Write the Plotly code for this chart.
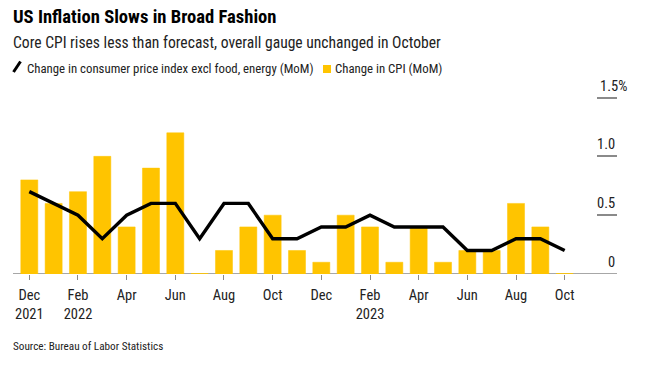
import plotly.graph_objects as go

months = ["Dec", "Jan", "Feb", "Mar", "Apr", "May", "Jun", "Jul", "Aug", "Sep", "Oct", "Nov",
          "Dec", "Jan", "Feb", "Mar", "Apr", "May", "Jun", "Jul", "Aug", "Sep", "Oct"]
cpi = [0.8, 0.6, 0.7, 1.0, 0.4, 0.9, 1.2, 0.0, 0.2, 0.4, 0.5, 0.2,
       0.1, 0.5, 0.4, 0.1, 0.4, 0.1, 0.2, 0.2, 0.6, 0.4, 0.0]
core = [0.7, 0.6, 0.5, 0.3, 0.5, 0.6, 0.6, 0.3, 0.6, 0.6, 0.3, 0.3,
        0.4, 0.4, 0.5, 0.4, 0.4, 0.4, 0.2, 0.2, 0.3, 0.3, 0.2]
xtick_labels = ["Dec<br>2021", "Feb<br>2022", "Apr", "Jun", "Aug", "Oct", "Dec",
                "Feb<br>2023", "Apr", "Jun", "Aug", "Oct"]
ytick_vals = [0, 0.5, 1.0, 1.5]
ytick_text = ["0", "0.5", "1.0", "1.5%"]

FONT = "Roboto Condensed, Roboto, Arial, sans-serif"
YELLOW = "#FFC400"
GREY = "#8a8a8a"
W, H = 670, 366
ML, MR, MT, MB = 13, 53, 74, 92
PH = H - MT - MB  # plot height px
PW = W - ML - MR
BARGAP = 0.3

x = list(range(len(months)))

fig = go.Figure()
fig.add_trace(go.Bar(x=x, y=cpi, marker=dict(color=YELLOW, line=dict(color=YELLOW, width=0.5)),
                     name="Change in CPI (MoM)", hoverinfo="y"))
fig.add_trace(go.Scatter(x=x, y=core, mode="lines", line=dict(color="black", width=3.4),
                         name="Change in consumer price index excl food, energy (MoM)"))

fig.update_layout(
    width=W, height=H,
    margin=dict(l=ML, r=MR, t=MT, b=MB, autoexpand=False),
    plot_bgcolor="white", paper_bgcolor="white",
    showlegend=False, bargap=BARGAP,
    font=dict(family=FONT, color="#222", size=13),
    xaxis=dict(range=[-0.67, 24.15], tickvals=x[::2], ticktext=xtick_labels,
               ticks="outside", ticklen=5, tickcolor=GREY, tickwidth=1,
               ticklabelstandoff=3,
               showline=False, showgrid=False, zeroline=False, automargin=False,
               tickfont=dict(size=14.5, color="#222")),
    yaxis=dict(range=[0, 1.7], side="right", tickvals=ytick_vals, ticktext=[""] * len(ytick_vals),
               ticks="inside", ticklen=20, tickcolor=GREY, tickwidth=1.5,
               showgrid=False, zeroline=False,
               showline=False, automargin=False),
)
# baseline axis line
fig.add_shape(type="line", xref="paper", yref="y", x0=0, x1=1, y0=0, y1=0,
              line=dict(color=GREY, width=1.5), layer="below")
# zero-value months drawn as a thin yellow stroke on the baseline
for i, v in enumerate(cpi):
    if v == 0:
        fig.add_shape(type="line", xref="x", yref="y", x0=x[i] - (1 - BARGAP) / 2,
                      x1=x[i] + (1 - BARGAP) / 2, y0=v, y1=v,
                      line=dict(color=YELLOW, width=1.5))


def px_x(p):
    return (p - ML) / PW


def px_y(p):
    return (H - MB - p) / PH


# y-axis labels sitting above their tick marks; the "%" of the top label hangs past the edge
for v, t in zip(ytick_vals, ytick_text):
    last = t.endswith("%")
    fig.add_annotation(text=t, xref="paper", yref="y", x=px_x(598) if last else 1,
                       xanchor="left" if last else "right", y=v, yanchor="bottom", yshift=1,
                       showarrow=False, font=dict(size=14.5, color="#222", family=FONT))


def txt(text, ypx, size, xpx=12, color="#222"):
    fig.add_annotation(text=text, xref="paper", yref="paper", x=px_x(xpx),
                       y=px_y(ypx), xanchor="left", yanchor="middle",
                       showarrow=False, font=dict(size=size, color=color, family=FONT))


txt("<b>US Inflation Slows in Broad Fashion</b>", 17, 18.6, xpx=11, color="#000")
txt("Core CPI rises less than forecast, overall gauge unchanged in October", 43, 15.6, xpx=11)
txt("Change in consumer price index excl food, energy (MoM)", 68, 12.8, xpx=25)
txt("Change in CPI (MoM)", 68, 12.8, xpx=333)
txt("Source: Bureau of Labor Statistics", 346, 11.2, xpx=11)

# legend icons
fig.add_shape(type="line", xref="paper", yref="paper", x0=px_x(13.5), x1=px_x(20.5),
              y0=px_y(72), y1=px_y(61.5), line=dict(color="black", width=3))
fig.add_shape(type="rect", xref="paper", yref="paper", x0=px_x(323), x1=px_x(331),
              y0=px_y(73), y1=px_y(65), fillcolor=YELLOW, line=dict(width=0))

fig.write_html("out.html", config={"displayModeBar": False},
               post_script="document.body.style.margin='0';")
